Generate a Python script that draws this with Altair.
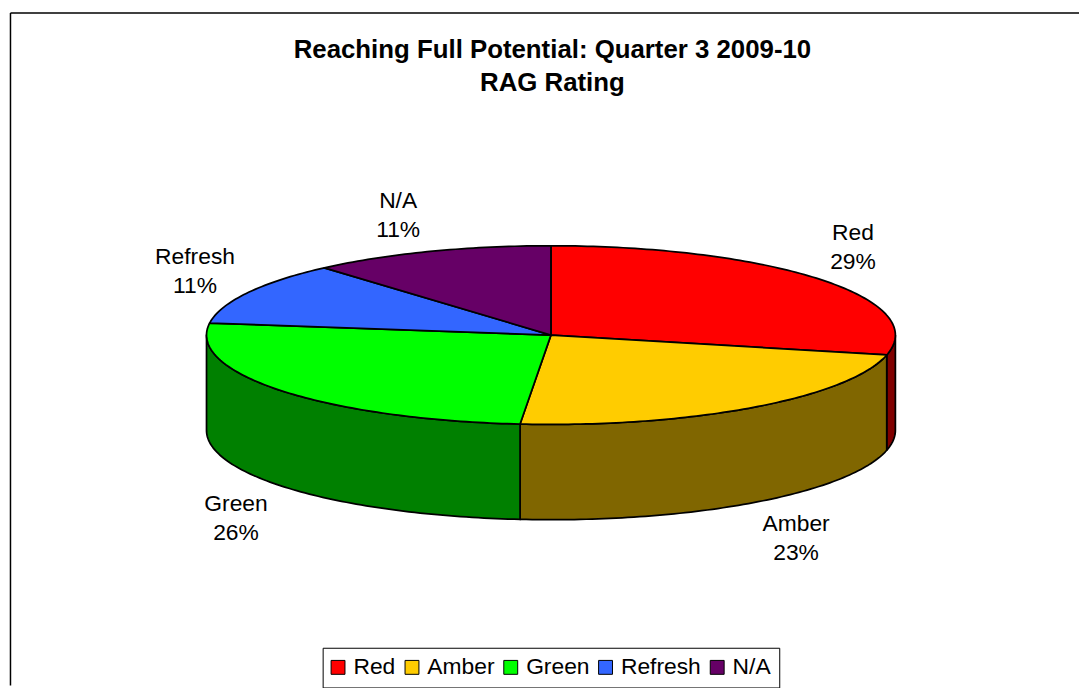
import math
import altair as alt
import pandas as pd

categories = ["Red", "Amber", "Green", "Refresh", "N/A"]
counts = [10, 8, 9, 4, 4]
top_colours = ["#FF0000", "#FFCC00", "#00FF00", "#3366FF", "#660066"]
side_colours = ["#800000", "#806600", "#008000", "#1A3380", "#330033"]
title_lines = ["Reaching Full Potential: Quarter 3 2009-10", "RAG Rating"]
label_dx = [33, 43, -46, -53, -32]
label_dy = [-32, 36, 33, -21, -36]

W, H = 1079, 680
CX, CY, A, B, DEPTH = 555, 335, 347, 90, 96
total = sum(counts)
depth_u = DEPTH / B

def arc(t0, t1):
    n = max(2, int(abs(t1 - t0)) + 1)
    return [t0 + (t1 - t0) * i / (n - 1) for i in range(n)]

top_rows, wall_rows, label_rows = [], [], []
cum = 0
for i, (cat, v) in enumerate(zip(categories, counts)):
    t0 = cum / total * 360
    cum += v
    t1 = cum / total * 360
    path = [(0.0, 0.0)]
    for t in arc(t0, t1):
        r = math.radians(t)
        path.append((math.sin(r), math.cos(r)))
    path.append((0.0, 0.0))
    for k, (x, y) in enumerate(path):
        top_rows.append({"cat": cat, "k": k, "x": x, "y": y})
    # visible wall: front half of the rim, 90..270 degrees
    w0, w1 = max(t0, 90), min(t1, 270)
    if w1 > w0:
        ts = arc(w0, w1)
        poly = [(math.sin(math.radians(t)), math.cos(math.radians(t))) for t in ts]
        poly += [(math.sin(math.radians(t)), math.cos(math.radians(t)) - depth_u) for t in reversed(ts)]
        poly.append(poly[0])
        for k, (x, y) in enumerate(poly):
            wall_rows.append({"cat": cat, "k": k, "x": x, "y": y, "side": side_colours[i]})
    mid = math.radians((t0 + t1) / 2)
    front = 90 < (t0 + t1) / 2 < 270
    label_rows.append({
        "x": math.sin(mid) + label_dx[i] / A,
        "y": math.cos(mid) - (depth_u if front else 0) - label_dy[i] / B,
        "text": [cat, f"{round(v / total * 100)}%"],
    })

xs = alt.Scale(domain=[(8 - CX) / A, (8 + W - CX) / A], range=[0, W], nice=False, zero=False)
ys = alt.Scale(domain=[(CY - 8 - H) / B, (CY - 8) / B], range=[H, 0], nice=False, zero=False)
X = alt.X("x:Q", scale=xs, axis=None)
Y = alt.Y("y:Q", scale=ys, axis=None)

walls = alt.Chart(pd.DataFrame(wall_rows)).mark_line(stroke="black", strokeWidth=1.75, strokeJoin="round").encode(
    x=X, y=Y, order="k:Q",
    fill=alt.Fill("side:N", scale=None, legend=None),
    detail="cat:N",
)
top = alt.Chart(pd.DataFrame(top_rows)).mark_line(stroke="black", strokeWidth=1.75, strokeJoin="round").encode(
    x=X, y=Y, order="k:Q",
    fill=alt.Fill(
        "cat:N",
        scale=alt.Scale(domain=categories, range=top_colours),
        legend=alt.Legend(
            title=None, orient="none", legendX=317, legendY=642, direction="horizontal", columns=5,
            symbolType="square", symbolSize=196, symbolStrokeColor="black", symbolStrokeWidth=1,
            symbolOpacity=1, labelFont="Liberation Sans", labelFontSize=23, labelColor="black",
            symbolOffset=-4, labelOffset=4, columnPadding=6.5, strokeColor="black", fillColor="white",
            padding=8, labelLimit=200,
        ),
    ),
)
labels = alt.Chart(pd.DataFrame(label_rows)).mark_text(
    font="Liberation Sans", fontSize=23, lineHeight=29, color="black", align="center", baseline="middle", dy=-14.5,
).encode(x=X, y=Y, text="text:N")

frame_top = alt.Chart(pd.DataFrame({"a": [0]})).mark_rule(color="black", strokeWidth=1.5).encode(
    x=alt.value(2.5), x2=alt.value(W), y=alt.value(2.5))
frame_left = alt.Chart(pd.DataFrame({"a": [0]})).mark_rule(color="black", strokeWidth=1.5).encode(
    x=alt.value(2.5), y=alt.value(2.5), y2=alt.value(H))

chart = alt.layer(walls, top, labels, frame_top, frame_left).resolve_scale(fill="independent").properties(
    width=W, height=H,
    padding=0,
    autosize=alt.AutoSizeParams(type="none"),
    title=alt.TitleParams(
        text=title_lines, font="Liberation Sans", fontSize=26, fontWeight="bold", color="black",
        anchor="middle", lineHeight=33, offset=-86, dx=9,
    ),
).configure_view(stroke=None)

chart.save("out.html", embed_options={"renderer": "svg", "actions": False})
